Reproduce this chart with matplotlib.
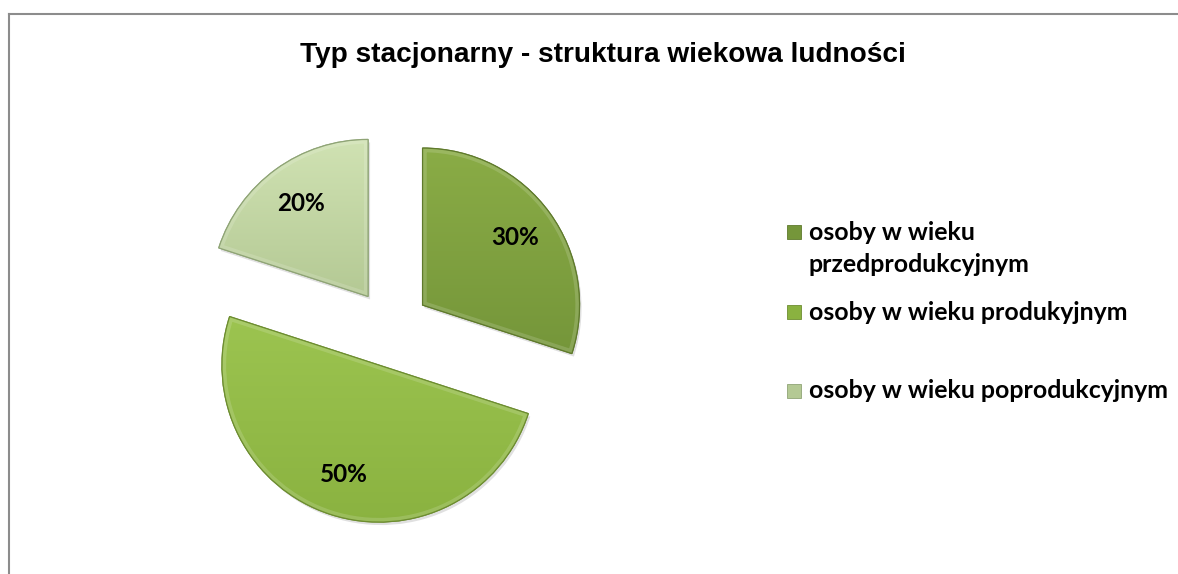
import numpy as np
import matplotlib
matplotlib.use("Agg")
import matplotlib.pyplot as plt
from matplotlib.colors import LinearSegmentedColormap
from matplotlib.patches import Rectangle, Wedge
from matplotlib.lines import Line2D

# data
title = "Typ stacjonarny - struktura wiekowa ludności"
categories = ["osoby w wieku\nprzedprodukcyjnym",
              "osoby w wieku produkyjnym",
              "osoby w wieku poprodukcyjnym"]
values = [30, 50, 20]

# colours: (top, bottom) for the gradient fill of each slice
top_colors = ["#8aac46", "#9cc450", "#d0e2b3"]
bottom_colors = ["#75963a", "#8ab240", "#b4c994"]
edge_colors = ["#5f7a2c", "#6d8d30", "#8fa476"]

W, H = 1178, 574
fig = plt.figure(figsize=(W / 100, H / 100), dpi=100)
ax = fig.add_axes([0, 0, 1, 1])

# pie drawn in pixel units so it lands where the reference has it
# (explode is an absolute offset, not a fraction of the radius)
cx, cy, r = 391, H - 328, 157
wedges, texts, autotexts = ax.pie(
    values, startangle=90, counterclock=False, explode=[39] * 3,
    center=(cx, cy), radius=r, autopct="%1.0f%%", pctdistance=0.73,
    colors=bottom_colors,
    wedgeprops=dict(linewidth=0.8, zorder=2),
    textprops=dict(fontsize=17.5, fontweight="bold", family="Lato", color="black"))

# soft shadow, vertical gradient and a light bevel inside each slice
grad = np.linspace(0, 1, 256).reshape(-1, 1)
for w, c1, c2, ec in zip(wedges, top_colors, bottom_colors, edge_colors):
    w.set_edgecolor(ec)
    ax.add_patch(Wedge((w.center[0] + 2, w.center[1] - 3), w.r, w.theta1, w.theta2,
                       facecolor="#9a9a9a", edgecolor="none", alpha=0.3, zorder=1))
    verts = w.get_path().vertices
    xmin, ymin = verts.min(axis=0)
    xmax, ymax = verts.max(axis=0)
    cmap = LinearSegmentedColormap.from_list("g", [c1, c2])
    im = ax.imshow(grad, cmap=cmap, extent=(xmin, xmax, ymin, ymax),
                   aspect="auto", zorder=2.1)
    im.set_clip_path(w)
    bevel = Wedge(w.center, w.r, w.theta1, w.theta2, fill=False,
                  edgecolor="white", alpha=0.15, linewidth=6, zorder=2.2)
    ax.add_patch(bevel)
    bevel.set_clip_path(w)
    ax.add_patch(Wedge(w.center, w.r, w.theta1, w.theta2, fill=False,
                       edgecolor=ec, linewidth=0.9, zorder=2.3))
for t in autotexts:
    t.set_zorder(5)

ax.set_xlim(0, W)
ax.set_ylim(0, H)
ax.set_aspect("equal")
ax.axis("off")

fig.text(603 / W, 1 - 55 / H, title, ha="center", va="center",
         fontsize=20.2, fontweight="bold", family="Liberation Sans")

# legend, placed by hand like the Excel one
leg_y = [232, 312, 391]
for lab, y, c1, c2, ec in zip(categories, leg_y, top_colors, bottom_colors, edge_colors):
    ax.add_patch(Rectangle((787, H - y - 7), 14, 14, facecolor=c2,
                           edgecolor=ec, linewidth=0.6))
    for i, line in enumerate(lab.split("\n")):
        ax.text(809, H - y - i * 33, line, ha="left", va="center",
                fontsize=17.9, fontweight="bold", family="Lato")

# grey frame (only top and left edges are visible in the crop)
fig.add_artist(Line2D([9 / W, 9 / W], [0, 1 - 14 / H], color="#8c8c8c", lw=1.5))
fig.add_artist(Line2D([9 / W, 1], [1 - 14 / H, 1 - 14 / H], color="#8c8c8c", lw=1.5))

fig.savefig("out.png", dpi=100)
